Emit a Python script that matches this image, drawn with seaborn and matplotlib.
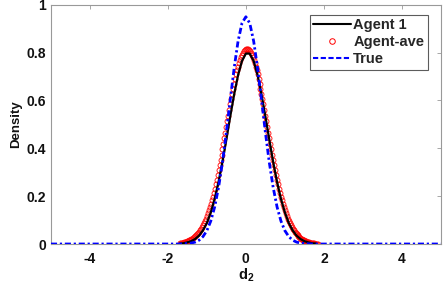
import numpy as np
import matplotlib
matplotlib.use('Agg')
import matplotlib.pyplot as plt
from matplotlib.lines import Line2D
import seaborn as sns

# Agent 1 (black line)
x_agent1 = [-1.7, -1.6, -1.5, -1.4, -1.3, -1.2, -1.1, -1.0, -0.9, -0.8, -0.7, -0.6,
            -0.5, -0.4, -0.3, -0.2, -0.1, 0.0, 0.1, 0.2, 0.3, 0.4, 0.5, 0.6,
            0.7, 0.8, 0.9, 1.0, 1.1, 1.2, 1.3, 1.4, 1.5, 1.6, 1.7, 1.8]
y_agent1 = [0.002, 0.003, 0.007, 0.012, 0.021, 0.035, 0.057, 0.088, 0.132, 0.189, 0.260, 0.344,
            0.437, 0.534, 0.626, 0.706, 0.765, 0.796, 0.796, 0.765, 0.706, 0.626, 0.534, 0.437,
            0.344, 0.260, 0.189, 0.132, 0.088, 0.057, 0.035, 0.021, 0.012, 0.007, 0.003, 0.002]

# Agent-ave (red circles), sampled every 0.025 from -1.70 to 1.85
y_ave = [0.003, 0.003, 0.004, 0.005, 0.006, 0.007, 0.008, 0.009, 0.011,
         0.013, 0.015, 0.017, 0.019, 0.022, 0.025, 0.028, 0.032, 0.036, 0.040,
         0.045, 0.051, 0.057, 0.063, 0.071, 0.078, 0.087, 0.096, 0.106, 0.117,
         0.128, 0.141, 0.154, 0.168, 0.182, 0.198, 0.214, 0.232, 0.250, 0.268,
         0.288, 0.308, 0.329, 0.351, 0.373, 0.396, 0.419, 0.442, 0.466, 0.490,
         0.513, 0.537, 0.560, 0.584, 0.606, 0.628, 0.650, 0.670, 0.690, 0.709,
         0.726, 0.742, 0.757, 0.770, 0.782, 0.792, 0.800, 0.807, 0.811, 0.814,
         0.815,
         0.814, 0.811, 0.807, 0.800, 0.792, 0.782, 0.770, 0.757, 0.742, 0.726,
         0.709, 0.690, 0.670, 0.650, 0.628, 0.606, 0.584, 0.560, 0.537, 0.513,
         0.490, 0.466, 0.442, 0.419, 0.396, 0.373, 0.351, 0.329, 0.308, 0.288,
         0.268, 0.250, 0.232, 0.214, 0.198, 0.182, 0.168, 0.154, 0.141, 0.128,
         0.117, 0.106, 0.096, 0.087, 0.078, 0.071, 0.063, 0.057, 0.051, 0.045,
         0.040, 0.036, 0.032, 0.028, 0.025, 0.022, 0.019, 0.017, 0.015, 0.013,
         0.011, 0.009, 0.008, 0.007, 0.006, 0.005, 0.004, 0.003, 0.003, 0.002,
         0.002, 0.001, 0.001]
x_ave = np.linspace(-1.70, 1.85, len(y_ave))

# True density (blue dash-dot)
x_true = [-5.0, -1.7, -1.6, -1.5, -1.4, -1.3, -1.2, -1.1, -1.0, -0.9, -0.8, -0.7, -0.6,
          -0.5, -0.4, -0.3, -0.2, -0.1, 0.0, 0.1, 0.2, 0.3, 0.4, 0.5, 0.6,
          0.7, 0.8, 0.9, 1.0, 1.1, 1.2, 1.3, 1.4, 1.5, 1.6, 1.7, 5.0]
y_true = [0.0, 0.0, 0.001, 0.002, 0.004, 0.008, 0.016, 0.031, 0.056, 0.096, 0.155, 0.237, 0.342,
          0.468, 0.604, 0.736, 0.848, 0.923, 0.950, 0.923, 0.848, 0.736, 0.604, 0.468, 0.342,
          0.237, 0.155, 0.096, 0.056, 0.031, 0.016, 0.008, 0.004, 0.002, 0.001, 0.0, 0.0]

xticks = [-4, -2, 0, 2, 4]
yticks = [0, 0.2, 0.4, 0.6, 0.8, 1]
ytick_labels = ['0', '0.2', '0.4', '0.6', '0.8', '1']

sns.set_style('white')
plt.rcParams['font.family'] = ['Liberation Sans', 'DejaVu Sans']
plt.rcParams['font.weight'] = 'bold'
plt.rcParams['axes.unicode_minus'] = False
plt.rcParams['mathtext.fontset'] = 'custom'
plt.rcParams['mathtext.rm'] = 'Liberation Sans:bold'
plt.rcParams['mathtext.bf'] = 'Liberation Sans:bold'

fig = plt.figure(figsize=(4.43, 2.91), dpi=100)
ax = fig.add_axes([0.115, 0.1615, 0.88, 0.822])

sns.lineplot(x=x_ave, y=y_ave, ax=ax, color='red', linestyle='none', marker='o',
             markersize=3.6, markerfacecolor='none', markeredgecolor='red',
             markeredgewidth=0.6, sort=False, zorder=2)
sns.lineplot(x=x_agent1, y=y_agent1, ax=ax, color='black', linewidth=1.6, sort=False, zorder=3)
sns.lineplot(x=x_true, y=y_true, ax=ax, color='blue', linewidth=2.0,
             dashes=(2.2, 1.0, 0.8, 1.0), sort=False, zorder=4)

ax.set_xlim(-5, 5)
ax.set_ylim(0, 1)
ax.set_xticks(xticks)
ax.set_xticklabels([str(t) for t in xticks], fontweight='bold', fontsize=10)
ax.set_yticks(yticks)
ax.set_yticklabels(ytick_labels, fontweight='bold', fontsize=10)
ax.tick_params(direction='in', length=3, width=0.6, colors='#999999',
               labelcolor='#111111', top=True, right=True)
ax.tick_params(axis='x', pad=6)
for sp in ax.spines.values():
    sp.set_color('#999999')
    sp.set_linewidth(0.8)

ax.set_xlabel(r'd$_\mathbf{2}$', fontsize=10.5, fontweight='bold', color='#111111', labelpad=0)
ax.set_ylabel('Density', fontsize=9.5, fontweight='bold', color='#111111', labelpad=3)

handles = [Line2D([], [], color='black', linewidth=1.5),
           Line2D([], [], color='red', linestyle='none', marker='o', markersize=4,
                  markerfacecolor='none', markeredgewidth=0.7),
           Line2D([], [], color='blue', linewidth=1.5, dashes=(2.5, 1.2))]
leg = ax.legend(handles, ['Agent 1', 'Agent-ave', 'True'], loc='upper right',
                bbox_to_anchor=(0.967, 0.958), prop={'weight': 'bold', 'size': 10.5},
                frameon=True, fancybox=False, handlelength=2.6, borderpad=0.25,
                labelspacing=0.2, handletextpad=0.15, borderaxespad=0)
leg.get_frame().set_edgecolor('#333333')
leg.get_frame().set_linewidth(0.8)

fig.savefig('out.png', dpi=100)
